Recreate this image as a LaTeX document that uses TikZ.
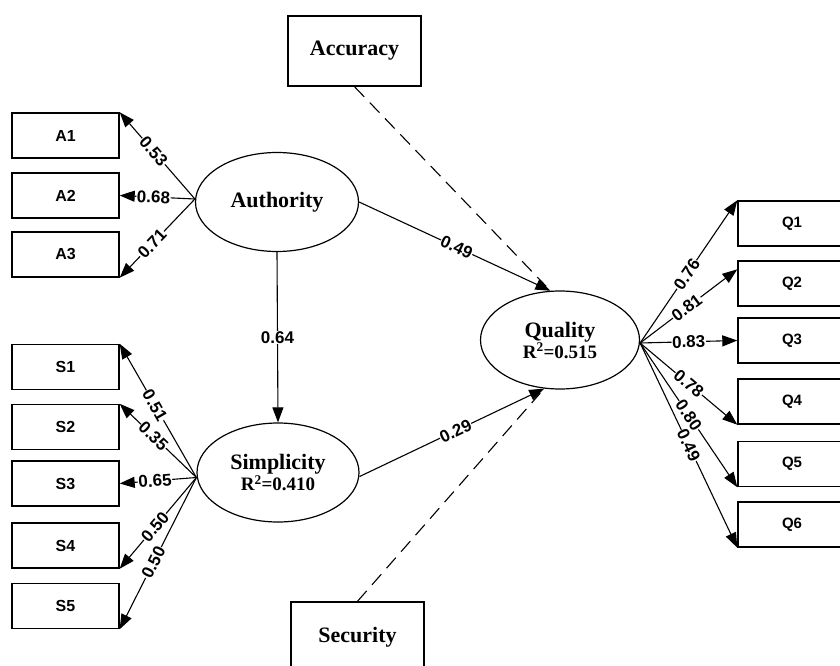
\documentclass[tikz,border=0pt]{standalone}
\usepackage{fontspec}
\setmainfont{Liberation Serif}
\setsansfont{Liberation Sans}
\usetikzlibrary{shapes.geometric,arrows.meta}
\begin{document}
\begin{tikzpicture}[x=1pt,y=-1pt,
 obs/.style={draw, line width=1.4pt, minimum width=107pt, minimum height=45pt, inner sep=0pt, font=\sffamily\bfseries\fontsize{16}{18}\selectfont},
 qobs/.style={obs, minimum width=108pt, font=\sffamily\bfseries\fontsize{15}{17}\selectfont},
 ext/.style={draw, line width=1.4pt, minimum width=133pt, minimum height=70pt, inner sep=0pt, font=\bfseries\fontsize{22}{24}\selectfont},
 lat/.style={draw, ellipse, line width=1.2pt, inner sep=0pt, align=center, font=\bfseries\fontsize{22}{24}\selectfont},
 arr/.style={line width=1.1pt, -{Triangle[length=15pt,width=11pt]}},
 lab/.style={fill=white, inner sep=0.6pt, font=\sffamily\bfseries\fontsize{17}{18}\selectfont},
 slab/.style={lab, sloped},
 dsh/.style={line width=1.1pt, dash pattern=on 14pt off 8pt}]
\useasboundingbox (0,0) rectangle (840,666);
\clip (0,0) rectangle (840,666);

% observed indicators
\node[obs] (a1) at (65.5,135.5) {A1};
\node[obs] (a2) at (65.5,195.5) {A2};
\node[obs] (a3) at (65.5,254.5) {A3};
\node[obs] (s1) at (65.5,367) {S1};
\node[obs] (s2) at (65.5,427) {S2};
\node[obs] (s3) at (65.5,483.5) {S3};
\node[obs] (s4) at (65.5,545.5) {S4};
\node[obs] (s5) at (65.5,606) {S5};
\node[qobs] (q1) at (792,223.5) {Q1};
\node[qobs] (q2) at (792,283.5) {Q2};
\node[qobs] (q3) at (792,340.5) {Q3};
\node[qobs] (q4) at (792,401.5) {Q4};
\node[qobs] (q5) at (792,464) {Q5};
\node[qobs] (q6) at (792,524.5) {Q6};

% external boxes
\node[ext] (acc) at (354.5,51) {Accuracy};
\node[ext] (sec) at (357.5,637) {Security};

% latent variables
\node[lat, minimum width=163pt, minimum height=99pt] (auth) at (277,202) {Authority};
\node[lat, minimum width=162pt, minimum height=99pt] (simp) at (278,472.5)
  {Simplicity\\[-3pt]{\fontsize{19}{20}\selectfont R\textsuperscript{2}=0.410}};
\node[lat, minimum width=159pt, minimum height=98pt] (qual) at (560,340)
  {Quality\\[-3pt]{\fontsize{19}{20}\selectfont R\textsuperscript{2}=0.515}};

\coordinate (afan) at ([yshift=3pt]auth.west);
\coordinate (sfan) at ([yshift=-5pt]simp.west);
\coordinate (qfan) at ([yshift=-3pt]qual.east);

% dashed influences
\draw[dsh, shorten >=6pt] (acc.south) -- (qual.101);
\draw[dsh, shorten >=6pt] (sec.north) -- (qual.-108);

% Authority loadings
\draw[arr] (afan) -- node[slab, pos=.55]{0.53} (a1.north east);
\draw[arr] (afan) -- node[slab, pos=.55]{0.68} (a2.east);
\draw[arr] (afan) -- node[slab, pos=.57]{0.71} (a3.south east);

% Simplicity loadings
\draw[arr] (sfan) -- node[slab, pos=.54]{0.51} (s1.north east);
\draw[arr] (sfan) -- node[slab, pos=.56]{0.35} (s2.north east);
\draw[arr] (sfan) -- node[slab, pos=.54]{0.65} (s3.east);
\draw[arr] (sfan) -- node[slab, pos=.54]{0.50} (s4.south east);
\draw[arr] (sfan) -- node[slab, pos=.56]{0.50} (s5.south east);

% Quality loadings
\draw[arr] (qfan) -- node[slab, pos=.48]{0.76} (q1.north west);
\draw[arr] (qfan) -- node[slab, pos=.48]{0.81} ([yshift=-9pt]q2.north west);
\draw[arr] (qfan) -- node[slab, pos=.5]{0.83} (q3.west);
\draw[arr] (qfan) -- node[slab, pos=.5]{0.78} (q4.south west);
\draw[arr] (qfan) -- node[slab, pos=.5]{0.80} (q5.south west);
\draw[arr] (qfan) -- node[slab, pos=.5]{0.49} (q6.south west);

% structural paths
\draw[arr] (auth.south) -- node[lab, pos=.5]{0.64} (simp.north);
\draw[arr] (auth.east) -- node[slab, pos=.51]{0.49} (qual.101);
\draw[arr] ([yshift=-4pt]simp.east) -- node[slab, pos=.52]{0.29} (qual.-108);
\end{tikzpicture}
\end{document}
